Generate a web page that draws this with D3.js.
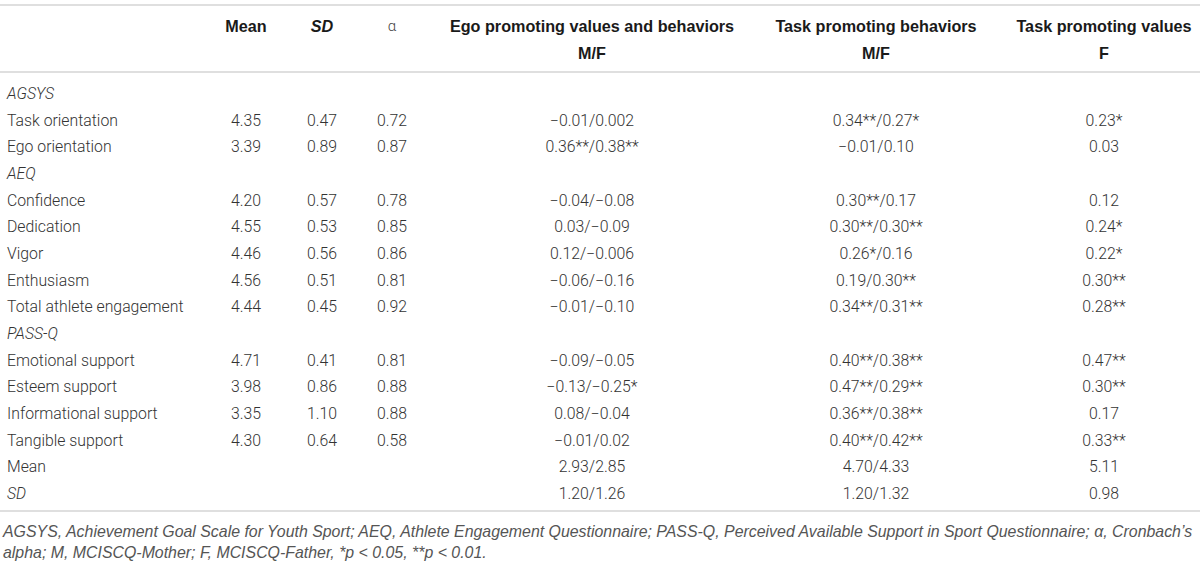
<!DOCTYPE html>
<html>
<head>
<meta charset="utf-8">
<script src="https://cdn.jsdelivr.net/npm/d3@7"></script>
<style>
  body { margin: 0; background: #fff; }
  svg { display: block; font-family: Roboto, "Liberation Sans", Arial, sans-serif; }
</style>
</head>
<body>
<div id="wrapper"></div>
<script>
// table content
const rowLabels = ["AGSYS", "Task orientation", "Ego orientation", "AEQ", "Confidence", "Dedication",
    "Vigor", "Enthusiasm", "Total athlete engagement", "PASS-Q", "Emotional support", "Esteem support",
    "Informational support", "Tangible support", "Mean", "SD"];
const italicRows = ["AGSYS", "AEQ", "PASS-Q", "SD"];
const means  = ["", "4.35", "3.39", "", "4.20", "4.55", "4.46", "4.56", "4.44", "", "4.71", "3.98", "3.35", "4.30", "", ""];
const sds    = ["", "0.47", "0.89", "", "0.57", "0.53", "0.56", "0.51", "0.45", "", "0.41", "0.86", "1.10", "0.64", "", ""];
const alphas = ["", "0.72", "0.87", "", "0.78", "0.85", "0.86", "0.81", "0.92", "", "0.81", "0.88", "0.88", "0.58", "", ""];
const egoMF  = ["", "\u22120.01/0.002", "0.36**/0.38**", "", "\u22120.04/\u22120.08", "0.03/\u22120.09",
    "0.12/\u22120.006", "\u22120.06/\u22120.16", "\u22120.01/\u22120.10", "", "\u22120.09/\u22120.05",
    "\u22120.13/\u22120.25*", "0.08/\u22120.04", "\u22120.01/0.02", "2.93/2.85", "1.20/1.26"];
const taskBehMF = ["", "0.34**/0.27*", "\u22120.01/0.10", "", "0.30**/0.17", "0.30**/0.30**", "0.26*/0.16",
    "0.19/0.30**", "0.34**/0.31**", "", "0.40**/0.38**", "0.47**/0.29**", "0.36**/0.38**", "0.40**/0.42**",
    "4.70/4.33", "1.20/1.32"];
const taskValF = ["", "0.23*", "0.03", "", "0.12", "0.24*", "0.22*", "0.30**", "0.28**", "", "0.47**",
    "0.30**", "0.17", "0.33**", "5.11", "0.98"];

const headers1 = ["Mean", "SD", "\u03b1", "Ego promoting values and behaviors", "Task promoting behaviors", "Task promoting values"];
const headers2 = ["", "", "", "M/F", "M/F", "F"];
const footLines = [
    "AGSYS, Achievement Goal Scale for Youth Sport; AEQ, Athlete Engagement Questionnaire; PASS-Q, Perceived Available Support in Sport Questionnaire; \u03b1, Cronbach\u2019s",
    "alpha; M, MCISCQ-Mother; F, MCISCQ-Father, *p < 0.05, **p < 0.01."
];

const width = 1200, height = 564;
const colX = [246, 322, 392, 592, 876, 1104];
const columns = [means, sds, alphas, egoMF, taskBehMF, taskValF];

const svg = d3.select("#wrapper").append("svg")
    .attr("width", width)
    .attr("height", height);

const y = d3.scaleBand()
    .domain(d3.range(rowLabels.length))
    .range([80, 506.7]);

// rules
[5, 72, 511].forEach(ly => {
    svg.append("line")
        .attr("x1", 0).attr("x2", width)
        .attr("y1", ly).attr("y2", ly)
        .attr("stroke", "#d4d4d4")
        .attr("stroke-width", 1.5);
});

// header
const head = svg.append("g")
    .style("font-family", "'Liberation Sans', Arial, sans-serif");
head.selectAll("text.h1")
    .data(headers1)
    .enter()
    .append("text")
    .attr("class", "h1")
    .attr("x", (d, i) => colX[i])
    .attr("y", 26)
    .attr("dy", "0.35em")
    .attr("text-anchor", "middle")
    .attr("fill", d => d == "\u03b1" ? "#444" : "#1a1a1a")
    .style("font-family", d => d == "\u03b1" ? "Roboto, sans-serif" : null)
    .style("font-size", d => d == "\u03b1" ? "15px" : "16.2px")
    .style("font-weight", d => d == "\u03b1" ? 300 : 700)
    .style("font-style", d => d == "SD" ? "italic" : "normal")
    .text(d => d);

head.selectAll("text.h2")
    .data(headers2)
    .enter()
    .append("text")
    .attr("class", "h2")
    .attr("x", (d, i) => colX[i])
    .attr("y", 53)
    .attr("dy", "0.35em")
    .attr("text-anchor", "middle")
    .attr("fill", "#1a1a1a")
    .style("font-size", "16.2px")
    .style("font-weight", 700)
    .text(d => d);

// row labels
svg.append("g")
    .selectAll("text")
    .data(rowLabels)
    .enter()
    .append("text")
    .attr("x", 7)
    .attr("y", (d, i) => y(i) + y.bandwidth() / 2)
    .attr("dy", "0.35em")
    .attr("fill", "#333")
    .style("font-size", "15.8px")
    .style("font-weight", 300)
    .style("font-style", d => italicRows.includes(d) ? "italic" : "normal")
    .text(d => d);

// cells
columns.forEach((col, c) => {
    svg.append("g")
        .selectAll("text")
        .data(col)
        .enter()
        .append("text")
        .attr("x", colX[c])
        .attr("y", (d, i) => y(i) + y.bandwidth() / 2)
        .attr("dy", "0.35em")
        .attr("text-anchor", "middle")
        .attr("fill", "#333")
        .style("font-size", "15.8px")
        .style("font-weight", 300)
        .text(d => d);
});

// footnote
svg.append("g")
    .selectAll("text")
    .data(footLines)
    .enter()
    .append("text")
    .attr("x", 3)
    .attr("y", (d, i) => 531 + i * 21.5)
    .attr("dy", "0.35em")
    .attr("fill", "#555")
    .style("font-family", "'Liberation Sans', Arial, sans-serif")
    .style("font-size", "15.9px")
    .style("font-style", "italic")
    .text(d => d);
</script>
</body>
</html>
